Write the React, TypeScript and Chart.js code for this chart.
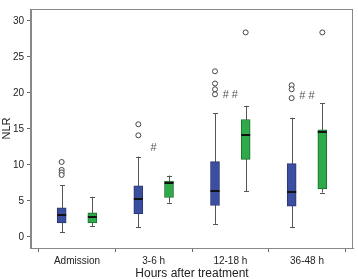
import React, { useEffect, useRef } from "react";
import { Chart, registerables } from "chart.js";

Chart.register(...registerables);

// ---- data ----
const categories = ["Admission", "3-6 h", "12-18 h", "36-48 h"];
const yTicks = [0, 5, 10, 15, 20, 25, 30];

const blueMin = [0.67, 1.3, 1.8, 1.34];
const blueQ1 = [1.93, 3.23, 4.35, 4.26];
const blueMedian = [3.09, 5.3, 6.32, 6.18];
const blueQ3 = [4.03, 7.08, 10.44, 10.17];
const blueMax = [7.18, 11.16, 17.16, 16.55];
const blueOutliers = [
  [10.4, 9.3, 8.95, 8.6],
  [15.64, 14.1],
  [23.0, 21.3, 20.5, 19.8],
  [21.06, 20.5, 19.27],
];

const greenMin = [1.48, 4.76, 6.37, 6.14];
const greenQ1 = [1.93, 5.47, 10.75, 6.64];
const greenMedian = [2.69, 7.49, 14.2, 14.5];
const greenQ3 = [3.32, 7.76, 16.3, 14.88];
const greenMax = [5.56, 8.52, 18.2, 18.55];
const greenOutliers = [[], [], [28.4], [28.4]];

const annotationText = ["", "#", "##", "##"];
const annotationY = [null, 12.4, 19.75, 19.6];

// ---- styling constants ----
const OFFSET = 0.2;
const BOX_W = 9;
const FONT = "'Liberation Sans', Arial, sans-serif";

const series = [
  { off: -OFFSET, min: blueMin, q1: blueQ1, med: blueMedian, q3: blueQ3, max: blueMax },
  { off: OFFSET, min: greenMin, q1: greenQ1, med: greenMedian, q3: greenQ3, max: greenMax },
];

const boxPlugin = {
  id: "boxParts",
  beforeDatasetsDraw(chart: any) {
    const { ctx, scales } = chart;
    const xs = scales.x, ys = scales.y;
    ctx.save();
    ctx.strokeStyle = "#555";
    ctx.lineWidth = 1;
    series.forEach((s) => {
      categories.forEach((_, i) => {
        const x = Math.round(xs.getPixelForValue(i + 1 + s.off)) + 0.5;
        const yMin = ys.getPixelForValue(s.min[i]);
        const yMax = ys.getPixelForValue(s.max[i]);
        ctx.beginPath();
        ctx.moveTo(x, yMin);
        ctx.lineTo(x, yMax);
        ctx.stroke();
        [yMin, yMax].forEach((yy) => {
          const y = Math.round(yy) + 0.5;
          ctx.beginPath();
          ctx.moveTo(x - 2.5, y);
          ctx.lineTo(x + 2.5, y);
          ctx.stroke();
        });
      });
    });
    ctx.restore();
  },
  afterDatasetsDraw(chart: any) {
    const { ctx, scales } = chart;
    const xs = scales.x, ys = scales.y;
    ctx.save();
    ctx.strokeStyle = "#111";
    ctx.lineWidth = 2;
    series.forEach((s) => {
      categories.forEach((_, i) => {
        const x = xs.getPixelForValue(i + 1 + s.off);
        const y = Math.round(ys.getPixelForValue(s.med[i]));
        ctx.beginPath();
        ctx.moveTo(x - BOX_W / 2, y);
        ctx.lineTo(x + BOX_W / 2, y);
        ctx.stroke();
      });
    });
    // annotations
    ctx.fillStyle = "#555";
    ctx.font = `11px ${FONT}`;
    ctx.textAlign = "center";
    ctx.textBaseline = "middle";
    categories.forEach((_, i) => {
      const v = annotationY[i];
      if (v == null || !annotationText[i]) return;
      ctx.fillText(annotationText[i].split("").join(" "), xs.getPixelForValue(i + 1), ys.getPixelForValue(v));
    });
    ctx.restore();
  },
  afterDraw(chart: any) {
    const { ctx, chartArea } = chart;
    ctx.save();
    ctx.strokeStyle = "#888";
    ctx.lineWidth = 1;
    ctx.strokeRect(
      Math.round(chartArea.left) - 0.5,
      Math.round(chartArea.top) + 0.5,
      Math.round(chartArea.right - chartArea.left),
      Math.round(chartArea.bottom - chartArea.top)
    );
    ctx.restore();
  },
};

export default function App() {
  const ref = useRef<HTMLCanvasElement>(null);
  useEffect(() => {
    if (!ref.current) return;
    const boxData = (s: any) =>
      categories.map((_, i) => ({ x: i + 1 + s.off, y: [s.q1[i], s.q3[i]] }));
    const outData = (arr: number[][], off: number) =>
      arr.flatMap((vals, i) => vals.map((v) => ({ x: i + 1 + off, y: v })));
    const chart = new Chart(ref.current, {
      type: "bar",
      data: {
        datasets: [
          {
            type: "bar",
            data: boxData(series[0]) as any,
            backgroundColor: "#3b4ea0",
            borderColor: "#2a3672",
            borderWidth: 1,
            borderSkipped: false,
            barThickness: BOX_W,
            grouped: false,
            order: 2,
          } as any,
          {
            type: "bar",
            data: boxData(series[1]) as any,
            backgroundColor: "#2eaa4a",
            borderColor: "#1d6d2f",
            borderWidth: 1,
            borderSkipped: false,
            barThickness: BOX_W,
            grouped: false,
            order: 2,
          } as any,
          {
            type: "scatter",
            data: [...outData(blueOutliers, -OFFSET), ...outData(greenOutliers, OFFSET)] as any,
            pointStyle: "circle",
            pointRadius: 2.5,
            pointBackgroundColor: "#fff",
            pointBorderColor: "#444",
            pointBorderWidth: 1,
            order: 1,
          } as any,
        ],
      },
      options: {
        animation: false,
        responsive: false,
        layout: { padding: { top: 1, right: 2, left: 0, bottom: 0 } },
        plugins: { legend: { display: false }, tooltip: { enabled: false } },
        scales: {
          x: {
            type: "linear",
            min: 0.4,
            max: 4.6,
            offset: false,
            afterBuildTicks: (scale: any) => {
              scale.ticks = categories.map((_, i) => ({ value: i + 1 }));
            },
            afterFit: (scale: any) => {
              scale.height = 31;
            },
            ticks: {
              autoSkip: false,
              maxRotation: 0,
              padding: 3,
              color: "#222",
              font: { family: FONT, size: 10 },
              callback: (v: any) => categories[Number(v) - 1] ?? "",
            },
            grid: { drawOnChartArea: false, drawTicks: true, tickLength: 4, color: "#666" },
            border: { display: true, color: "#888" },
            title: {
              display: true,
              text: "Hours after treatment",
              color: "#222",
              font: { family: FONT, size: 12 },
              padding: { top: 0, bottom: -2 },
            },
          },
          y: {
            type: "linear",
            min: -1.55,
            max: 31.65,
            afterBuildTicks: (scale: any) => {
              scale.ticks = yTicks.map((v) => ({ value: v }));
            },
            afterFit: (scale: any) => {
              scale.width = 31;
            },
            ticks: {
              padding: 3,
              color: "#222",
              font: { family: FONT, size: 10 },
            },
            grid: { drawOnChartArea: false, drawTicks: true, tickLength: 4, color: "#666" },
            border: { display: true, color: "#888" },
            title: {
              display: true,
              text: "NLR",
              color: "#222",
              font: { family: FONT, size: 11 },
              padding: { top: 0, bottom: 0 },
            },
          },
        },
      },
      plugins: [boxPlugin],
    });
    return () => chart.destroy();
  }, []);
  return (
    <div style={{ position: "absolute", left: 0, top: 0, width: 358, height: 279, background: "#fff" }}>
      <canvas ref={ref} width={358} height={279} />
    </div>
  );
}
